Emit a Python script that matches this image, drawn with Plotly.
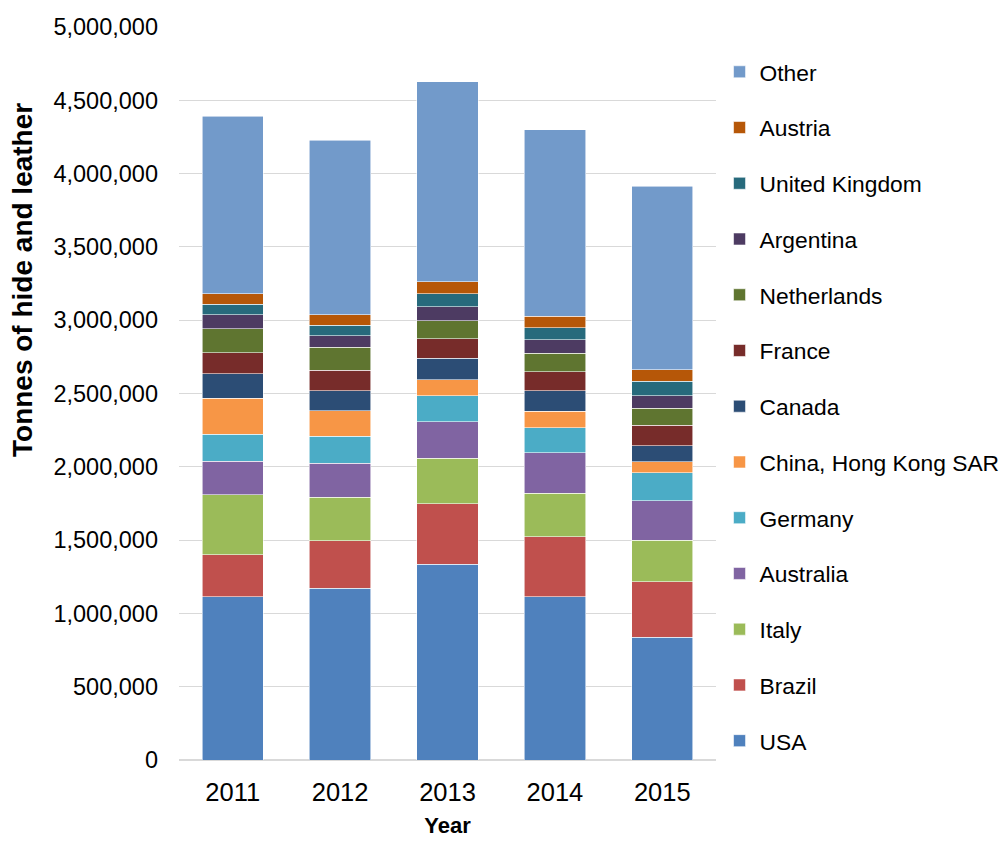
import plotly.graph_objects as go

years = ["2011", "2012", "2013", "2014", "2015"]

usa         = [1113000, 1170000, 1336000, 1113000, 836000]
brazil      = [287000, 326000, 412000, 410000, 380000]
italy       = [411000, 295000, 309000, 297000, 282000]
australia   = [228000, 234000, 249000, 275000, 272000]
germany     = [183000, 184000, 180000, 171000, 189000]
hong_kong   = [246000, 173000, 107000, 114000, 75000]
canada      = [168000, 136000, 148000, 138000, 111000]
france      = [141000, 139000, 134000, 130000, 137000]
netherlands = [164000, 157000, 120000, 127000, 118000]
argentina   = [95000, 79000, 96000, 93000, 84000]
uk          = [73000, 73000, 89000, 79000, 98000]
austria     = [73000, 70000, 81000, 79000, 79000]
other       = [1209000, 1193000, 1366000, 1273000, 1253000]

series = [
    ("USA", usa, "#4F81BD"),
    ("Brazil", brazil, "#C0504D"),
    ("Italy", italy, "#9BBB59"),
    ("Australia", australia, "#8064A2"),
    ("Germany", germany, "#4BACC6"),
    ("China, Hong Kong SAR", hong_kong, "#F79646"),
    ("Canada", canada, "#2C4D75"),
    ("France", france, "#772C2A"),
    ("Netherlands", netherlands, "#5F7530"),
    ("Argentina", argentina, "#4D3B62"),
    ("United Kingdom", uk, "#276A7C"),
    ("Austria", austria, "#B65708"),
    ("Other", other, "#729ACA"),
]

FONT = "Liberation Sans, Arial, sans-serif"

fig = go.Figure()
for i, (name, vals, color) in enumerate(series):
    fig.add_trace(go.Bar(
        x=years, y=vals, name=name, legendgroup=name, legendrank=1000 - i,
        marker=dict(color=color, line=dict(color="rgba(255,255,255,0.7)", width=0.8)),
    ))

fig.update_layout(
    width=1000, height=833,
    barmode="stack", bargap=0.43,
    plot_bgcolor="white", paper_bgcolor="white",
    margin=dict(l=171, r=292, t=19, b=81, autoexpand=False),
    font=dict(family=FONT, size=23.5, color="#000000"),
    showlegend=True,
    legend=dict(
        traceorder="grouped", x=1.0066, xanchor="left", y=0.968, yanchor="top",
        yref="paper", tracegroupgap=23.1, font=dict(size=22.8, family=FONT),
        bgcolor="rgba(0,0,0,0)", itemwidth=30, borderwidth=0,
    ),
    annotations=[dict(
        text="<b>Tonnes of hide and leather</b>", textangle=-90,
        xref="paper", yref="paper", x=(22 - 179) / 537, y=(760 - 280) / 733,
        xanchor="center", yanchor="middle", showarrow=False,
        font=dict(size=28, family=FONT),
    )],
)

fig.update_yaxes(
    range=[0, 5000000], dtick=500000, tickformat=",d",
    showgrid=True, gridcolor="#D9D9D9", gridwidth=1.3,
    zeroline=True, zerolinecolor="#D9D9D9", zerolinewidth=1.5,
    showline=False, ticks="", ticklabelstandoff=20, automargin=False,
    tickfont=dict(size=23.5, family=FONT),
)
fig.update_xaxes(
    title=dict(text="<b>Year</b>", font=dict(size=22, family=FONT), standoff=13),
    showline=False, ticks="", ticklabelstandoff=14, automargin=False,
    tickfont=dict(size=25.5, family=FONT),
)

fig.write_html("out.html")
